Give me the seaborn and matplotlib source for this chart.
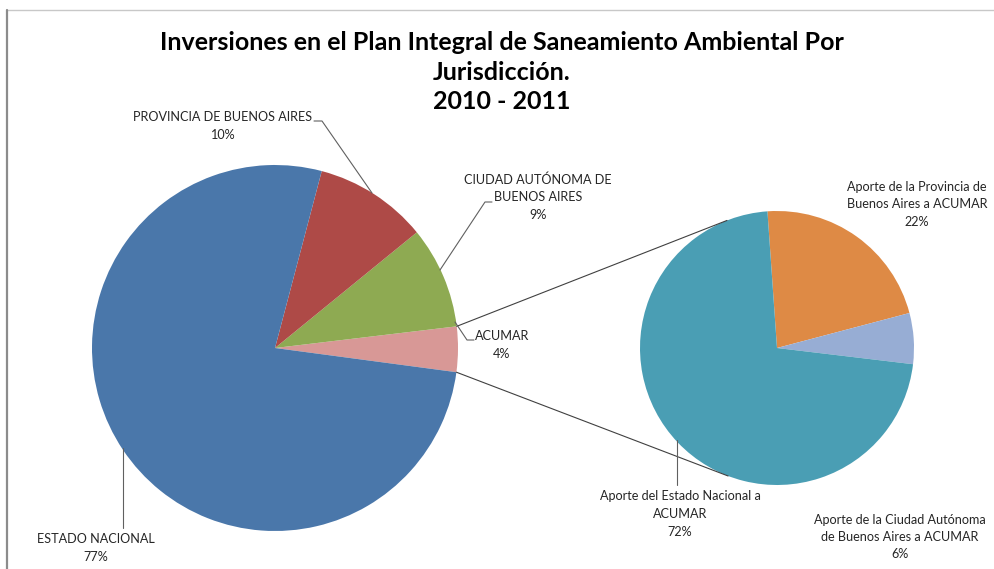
"""
Pie-of-pie: Inversiones en el Plan Integral de Saneamiento Ambiental
por jurisdicción, 2010 - 2011.
"""

import numpy as np
import matplotlib
matplotlib.use("Agg")
import matplotlib.pyplot as plt
import seaborn as sns

# Data
main_labels = ["ACUMAR", "CIUDAD AUTÓNOMA DE\nBUENOS AIRES",
               "PROVINCIA DE BUENOS AIRES", "ESTADO NACIONAL"]
main_values = [4, 9, 10, 77]
main_colors = ["#D89896", "#8EAA52", "#AE4A47", "#4A77AA"]

sub_labels = ["Aporte de la Provincia de\nBuenos Aires a ACUMAR",
              "Aporte de la Ciudad Autónoma\nde Buenos Aires a ACUMAR",
              "Aporte del Estado Nacional a\nACUMAR"]
sub_values = [22, 6, 72]
sub_colors = ["#DE8A45", "#97ADD4", "#4A9EB4"]

TITLE = ("Inversiones en el Plan Integral de Saneamiento Ambiental Por\n"
         "Jurisdicción.\n2010 - 2011")

# Layout (pixels, y measured from the top of the image)
W, H = 995, 569
MAIN_C, MAIN_R = (275, 348), 183
SUB_C, SUB_R = (777, 348), 137

main_label_pos = [(502, 345), (538, 197), (223, 126), (96, 548)]
sub_label_pos = [(917, 204), (900, 537), (680, 514)]

main_leaders = [
    [(455, 322), (467, 340), (474, 340)],
    [(492, 202), (485, 202), (440, 270)],
    [(314, 121), (322, 121), (372, 193)],
    [(123, 448), (123, 528)],
]
sub_leaders = [None, None, [(677, 440), (677, 485)]]


def px(x, y):
    return x, H - y


def pct(values):
    total = sum(values)
    return [f"{v / total * 100:.0f}%" for v in values]


sns.set_theme(style="white")
plt.rcParams["font.family"] = ["Lato", "DejaVu Sans"]

fig = plt.figure(figsize=(W / 100, H / 100), dpi=100)
ax = fig.add_axes([0, 0, 1, 1])

half = 360 * main_values[0] / sum(main_values) / 2
w_main, _ = ax.pie(main_values, colors=main_colors, center=px(*MAIN_C),
                   radius=MAIN_R, startangle=-half - 0.4, counterclock=True,
                   wedgeprops=dict(linewidth=0))
w_sub, _ = ax.pie(sub_values, colors=sub_colors, center=px(*SUB_C),
                  radius=SUB_R, startangle=94, counterclock=False,
                  wedgeprops=dict(linewidth=0))

ax.set_xlim(0, W)
ax.set_ylim(0, H)
ax.set_aspect("equal")
ax.axis("off")

# connector lines from the ACUMAR wedge to the secondary pie (tangents)
mc = np.array(px(*MAIN_C), dtype=float)
sc = np.array(px(*SUB_C), dtype=float)
acumar = w_main[0]
for ang, upper in [(acumar.theta2, True), (acumar.theta1, False)]:
    p = mc + MAIN_R * np.array([np.cos(np.radians(ang)), np.sin(np.radians(ang))])
    d = p - sc
    base = np.arctan2(d[1], d[0])
    off = np.arccos(SUB_R / np.hypot(*d))
    a = base - off if upper else base + off
    q = sc + SUB_R * np.array([np.cos(a), np.sin(a)])
    ax.plot([p[0], q[0]], [p[1], q[1]], color="#404040", lw=0.8)

label_kw = dict(ha="center", va="center", fontsize=9.1, color="#262626",
                linespacing=1.55)
for lab, txt, (x, y) in zip(main_labels, pct(main_values), main_label_pos):
    ax.text(*px(x, y), f"{lab}\n{txt}", **label_kw)
for lab, txt, (x, y) in zip(sub_labels, pct(sub_values), sub_label_pos):
    ax.text(*px(x, y), f"{lab}\n{txt}", **label_kw)

for pts in main_leaders + [s for s in sub_leaders if s]:
    xs, ys = zip(*[px(x, y) for x, y in pts])
    ax.plot(xs, ys, color="#606060", lw=0.8)

ax.text(*px(502, 72), TITLE, ha="center", va="center", fontsize=18,
        fontweight="bold", color="black", linespacing=1.36)

# chart frame
ax.plot([7, W], [H - 10, H - 10], color="#C8C8C8", lw=1, clip_on=False)
ax.plot([7, 7], [0, H - 10], color="#8C8C8C", lw=1.6, clip_on=False)

fig.savefig("out.png", dpi=100)
plt.close(fig)
